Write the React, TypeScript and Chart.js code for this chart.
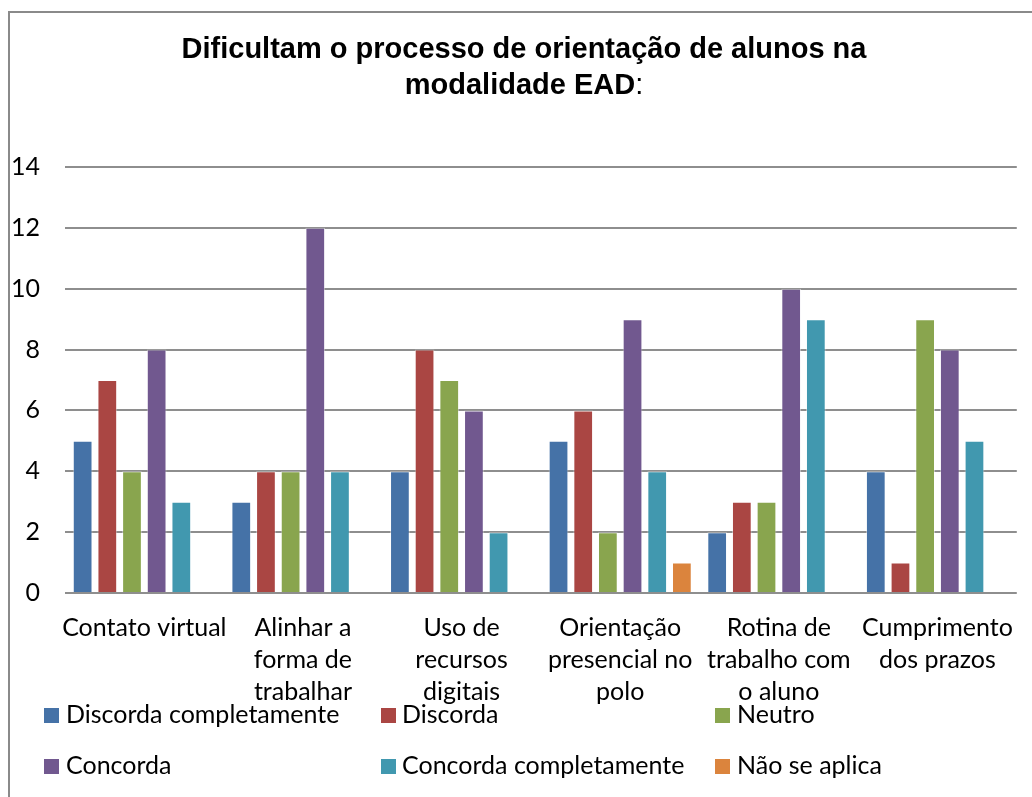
import React, { useEffect, useRef } from "react";
import { Chart, registerables } from "chart.js";

Chart.register(...registerables);

const titleLine1 = "Dificultam o processo de orientação de alunos na";
const titleLine2 = "modalidade EAD";
const titleSuffix = ":";

const categories: string[][] = [
  ["Contato virtual"],
  ["Alinhar a", "forma de", "trabalhar"],
  ["Uso de", "recursos", "digitais"],
  ["Orientação", "presencial no", "polo"],
  ["Rotina de", "trabalho com", "o aluno"],
  ["Cumprimento", "dos prazos"],
];

const seriesNames = [
  "Discorda completamente",
  "Discorda",
  "Neutro",
  "Concorda",
  "Concorda completamente",
  "Não se aplica",
];

const discordaCompletamente = [5, 3, 4, 5, 2, 4];
const discorda = [7, 4, 8, 6, 3, 1];
const neutro = [4, 4, 7, 2, 3, 9];
const concorda = [8, 12, 6, 9, 10, 8];
const concordaCompletamente = [3, 4, 2, 4, 9, 5];
const naoSeAplica = [0, 0, 0, 1, 0, 0];

const seriesValues = [
  discordaCompletamente,
  discorda,
  neutro,
  concorda,
  concordaCompletamente,
  naoSeAplica,
];

const seriesColors = ["#4572A7", "#AA4643", "#89A54E", "#71588F", "#4198AF", "#DB843D"];

const yTicks = [0, 2, 4, 6, 8, 10, 12, 14];

const FONT = "Lato, 'Open Sans', sans-serif";
const FS = 25;

const framePlugin = {
  id: "frame",
  beforeDraw(chart: any) {
    const ctx = chart.ctx;
    ctx.save();
    ctx.fillStyle = "#ffffff";
    ctx.fillRect(0, 0, chart.width, chart.height);
    ctx.strokeStyle = "#8a8a8a";
    ctx.lineWidth = 2;
    ctx.beginPath();
    ctx.moveTo(9, chart.height);
    ctx.lineTo(9, 12);
    ctx.lineTo(chart.width, 12);
    ctx.stroke();
    ctx.restore();
  },
};

const titlePlugin = {
  id: "customTitle",
  afterDraw(chart: any) {
    const ctx = chart.ctx;
    const cx = 524;
    const bold = "bold 29px 'Liberation Sans', Arial, sans-serif";
    const reg = "29px 'Liberation Sans', Arial, sans-serif";
    ctx.save();
    ctx.fillStyle = "#000";
    ctx.textBaseline = "alphabetic";
    ctx.font = bold;
    const w1 = ctx.measureText(titleLine1).width;
    ctx.fillText(titleLine1, cx - w1 / 2, 58);
    const w2 = ctx.measureText(titleLine2).width;
    ctx.font = reg;
    const w3 = ctx.measureText(titleSuffix).width;
    const start = cx - (w2 + w3) / 2;
    ctx.font = bold;
    ctx.fillText(titleLine2, start, 94);
    ctx.font = reg;
    ctx.fillText(titleSuffix, start + w2, 94);
    ctx.restore();
  },
};

const legendPlugin = {
  id: "gridLegend",
  afterDraw(chart: any) {
    const ctx = chart.ctx;
    const colBox = [44, 381, 715];
    const colText = [66, 402, 737];
    const rowY = [715, 766];
    ctx.save();
    ctx.font = `${FS}px ${FONT}`;
    ctx.textBaseline = "middle";
    chart.data.datasets.forEach((ds: any, i: number) => {
      const c = i % 3;
      const r = Math.floor(i / 3);
      ctx.fillStyle = ds.backgroundColor;
      ctx.fillRect(colBox[c], rowY[r] - 7, 15, 15);
      ctx.fillStyle = "#000";
      ctx.fillText(ds.label, colText[c], rowY[r]);
    });
    ctx.restore();
  },
};

export default function App() {
  const canvasRef = useRef<HTMLCanvasElement | null>(null);

  useEffect(() => {
    if (!canvasRef.current) return;
    const chart = new Chart(canvasRef.current, {
      type: "bar",
      data: {
        labels: categories,
        datasets: seriesNames.map((name, i) => ({
          label: name,
          data: seriesValues[i],
          backgroundColor: seriesColors[i],
          borderColor: "rgba(255,255,255,0.45)",
          borderWidth: 1,
          categoryPercentage: 0.933,
          barPercentage: 0.8,
        })),
      },
      options: {
        responsive: false,
        animation: false,
        layout: { padding: { top: 167, left: 0, right: 2, bottom: 74 } },
        plugins: {
          legend: { display: false },
          title: { display: false },
          tooltip: { enabled: false },
        },
        scales: {
          x: {
            grid: { display: false, drawTicks: false },
            border: { display: false },
            ticks: {
              color: "#000",
              font: { family: FONT, size: FS, lineHeight: 32 / FS },
              padding: 19,
              maxRotation: 0,
              minRotation: 0,
              autoSkip: false,
            },
            afterFit(scale: any) {
              scale.height = 130;
            },
          },
          y: {
            min: 0,
            max: 14,
            afterBuildTicks(scale: any) {
              scale.ticks = yTicks.map((v) => ({ value: v }));
            },
            grid: { color: "#8e8e8e", lineWidth: 2, drawTicks: false },
            border: { display: false },
            ticks: {
              color: "#000",
              font: { family: FONT, size: FS },
              padding: 25,
            },
            afterFit(scale: any) {
              scale.width = 65;
            },
          },
        },
      },
      plugins: [framePlugin, titlePlugin, legendPlugin],
    });
    return () => chart.destroy();
  }, []);

  return (
    <div style={{ position: "absolute", left: 0, top: 0, width: 1032, height: 797 }}>
      <canvas ref={canvasRef} width={1032} height={797} style={{ display: "block" }} />
    </div>
  );
}
